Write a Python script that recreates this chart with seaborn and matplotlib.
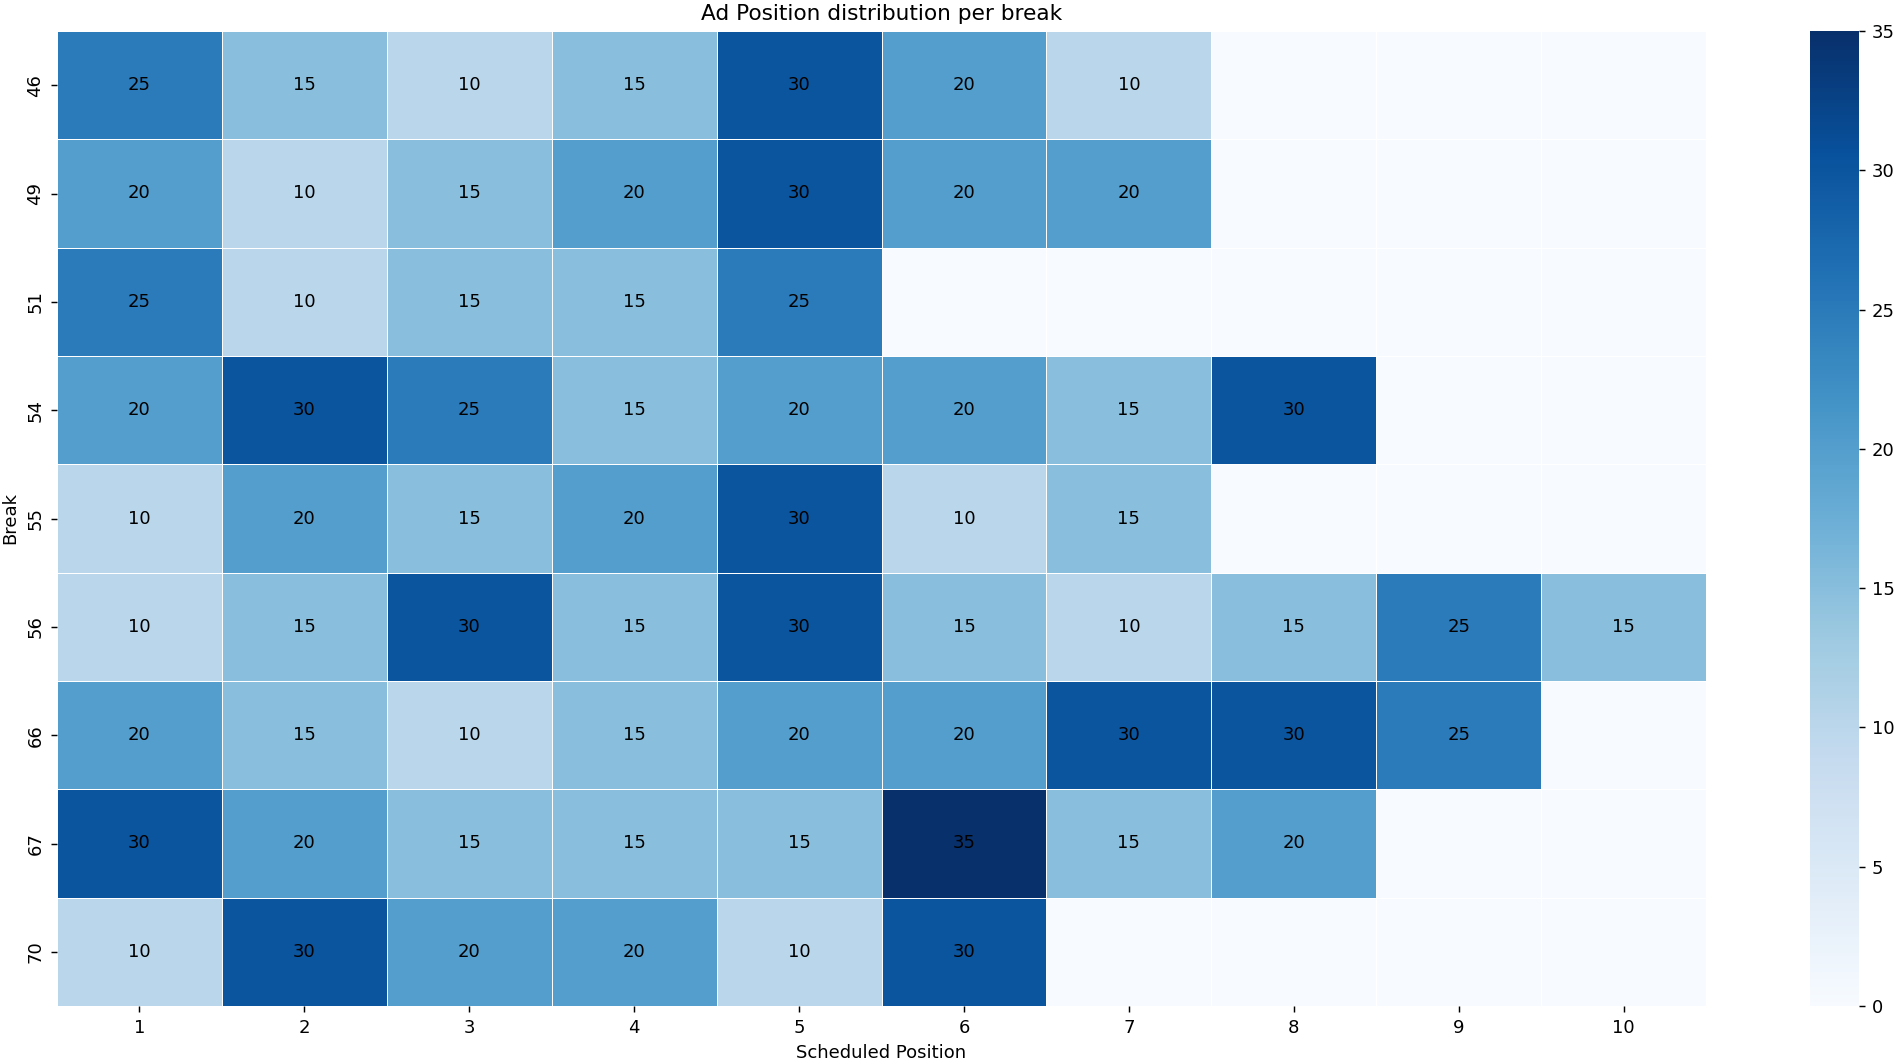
import matplotlib
matplotlib.use('Agg')
from matplotlib import pyplot as plt
import numpy as np
import pandas as pd
import seaborn as sns

breaks = [46, 49, 51, 54, 55, 56, 66, 67, 70]
positions = [1, 2, 3, 4, 5, 6, 7, 8, 9, 10]

# ad counts per break and scheduled position (0 = no ad in that slot)
row_46 = [25, 15, 10, 15, 30, 20, 10, 0, 0, 0]
row_49 = [20, 10, 15, 20, 30, 20, 20, 0, 0, 0]
row_51 = [25, 10, 15, 15, 25, 0, 0, 0, 0, 0]
row_54 = [20, 30, 25, 15, 20, 20, 15, 30, 0, 0]
row_55 = [10, 20, 15, 20, 30, 10, 15, 0, 0, 0]
row_56 = [10, 15, 30, 15, 30, 15, 10, 15, 25, 15]
row_66 = [20, 15, 10, 15, 20, 20, 30, 30, 25, 0]
row_67 = [30, 20, 15, 15, 15, 35, 15, 20, 0, 0]
row_70 = [10, 30, 20, 20, 10, 30, 0, 0, 0, 0]

df = pd.DataFrame([row_46, row_49, row_51, row_54, row_55, row_56, row_66, row_67, row_70],
                  index=breaks, columns=positions)
df.index.name = 'Break'
df.columns.name = 'Scheduled Position'

# hide the zero labels
labels = df.map(lambda v: '' if v == 0 else str(v))

W, H = 1900, 1064
fig = plt.figure(figsize=(W / 130, H / 130), dpi=130)
ax = fig.add_axes([57 / W, 1 - 1006 / H, (1706 - 57) / W, (1006 - 31) / H])
cax = fig.add_axes([1810 / W, 1 - 1006 / H, 49 / W, (1006 - 31) / H])

sns.heatmap(df, ax=ax, cbar_ax=cax, cmap='Blues', vmin=0, vmax=35,
            annot=labels.values, fmt='', annot_kws={'color': 'black'},
            linewidths=0.5, linecolor='white')

ax.set_title('Ad Position distribution per break')
ax.set_xlabel('Scheduled Position')
ax.set_ylabel('Break')

fig.savefig('out.png', dpi=130)
